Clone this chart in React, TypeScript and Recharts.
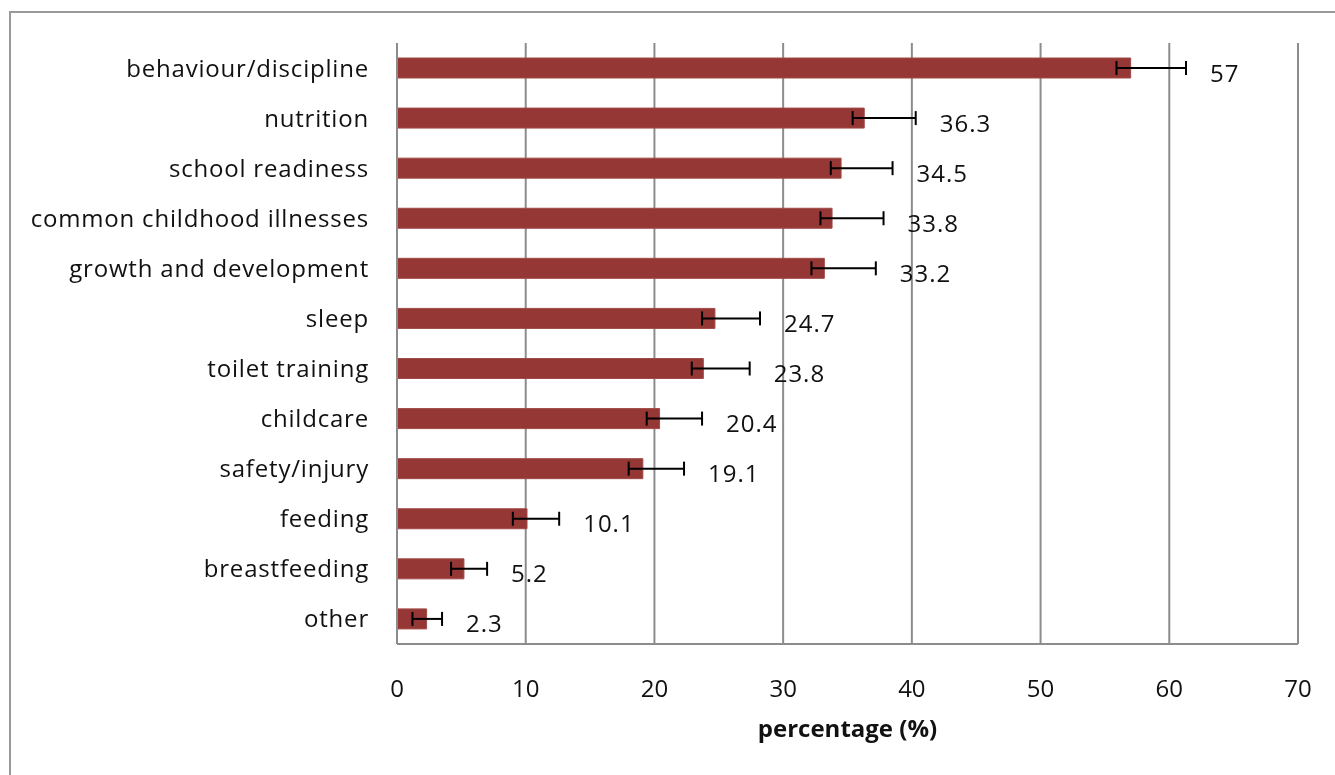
import { BarChart, Bar, XAxis, YAxis, CartesianGrid, ErrorBar, LabelList, Label } from 'recharts';

const categories = [
  'behaviour/discipline',
  'nutrition',
  'school readiness',
  'common childhood illnesses',
  'growth and development',
  'sleep',
  'toilet training',
  'childcare',
  'safety/injury',
  'feeding',
  'breastfeeding',
  'other',
];

const percentages = [57, 36.3, 34.5, 33.8, 33.2, 24.7, 23.8, 20.4, 19.1, 10.1, 5.2, 2.3];

// asymmetric error bars (minus, plus)
const errMinus = [1.1, 0.9, 0.8, 0.9, 1.0, 1.0, 0.9, 1.0, 1.1, 1.1, 1.0, 1.1];
const errPlus = [4.3, 4.0, 4.0, 4.0, 4.0, 3.5, 3.6, 3.3, 3.2, 2.5, 1.8, 1.2];

const xTicks = [0, 10, 20, 30, 40, 50, 60, 70];

const data = categories.map((name, i) => ({
  name,
  value: percentages[i],
  err: [errMinus[i], errPlus[i]],
}));

const FONT = '"Open Sans", sans-serif';
const TEXT = '#111';
const GRID = '#8c8c8c';

const ValueLabel = (props: any) => {
  const vb = props.viewBox ?? props;
  const x = vb.x ?? props.x;
  const y = vb.y ?? props.y;
  const w = vb.width ?? props.width;
  const h = vb.height ?? props.height;
  const i = props.index ?? 0;
  const v = Number(props.value);
  const perUnit = v ? w / v : 0;
  const lx = x + w + errPlus[i] * perUnit + 24;
  return (
    <text
      x={lx}
      y={y + h / 2 + 4}
      dominantBaseline="central"
      fontFamily={FONT}
      fontSize={24}
      letterSpacing={1}
      fill={TEXT}
    >
      {props.value}
    </text>
  );
};

export default function App() {
  return (
    <div>
      <div
        style={{
          position: 'fixed',
          left: 9,
          top: 11,
          width: 1400,
          height: 800,
          border: '2px solid #999',
          boxSizing: 'border-box',
        }}
      />
      <div style={{ position: 'fixed', left: 0, top: 0, width: 1335, height: 775 }}>
        <BarChart
          width={1335}
          height={775}
          data={data}
          layout="vertical"
          margin={{ top: 43, right: 37, left: 0, bottom: 0 }}
          barSize={20}
        >
          <CartesianGrid horizontal={false} vertical stroke={GRID} strokeWidth={2} />
          <XAxis
            type="number"
            domain={[0, 70]}
            ticks={xTicks}
            interval={0}
            height={131}
            tickLine={false}
            tickSize={0}
            tickMargin={36}
            axisLine={{ stroke: GRID, strokeWidth: 2 }}
            tick={{ fill: TEXT, fontSize: 24, fontFamily: FONT }}
          >
            <Label
              value="percentage (%)"
              position="insideBottom"
              offset={38}
              style={{ fontFamily: FONT, fontSize: 24, fontWeight: 700, fill: TEXT }}
            />
          </XAxis>
          <YAxis
            type="category"
            dataKey="name"
            width={397}
            interval={0}
            tickLine={false}
            tickSize={0}
            tickMargin={28}
            axisLine={{ stroke: GRID, strokeWidth: 2 }}
            tick={{ fill: TEXT, fontSize: 24, fontFamily: FONT, letterSpacing: 0.8 }}
          />
          <Bar dataKey="value" fill="#953735" stroke="#a04a48" strokeWidth={1} isAnimationActive={false}>
            <ErrorBar dataKey="err" direction="x" width={7} stroke="#000" strokeWidth={2} />
            <LabelList dataKey="value" content={ValueLabel} />
          </Bar>
        </BarChart>
      </div>
    </div>
  );
}
